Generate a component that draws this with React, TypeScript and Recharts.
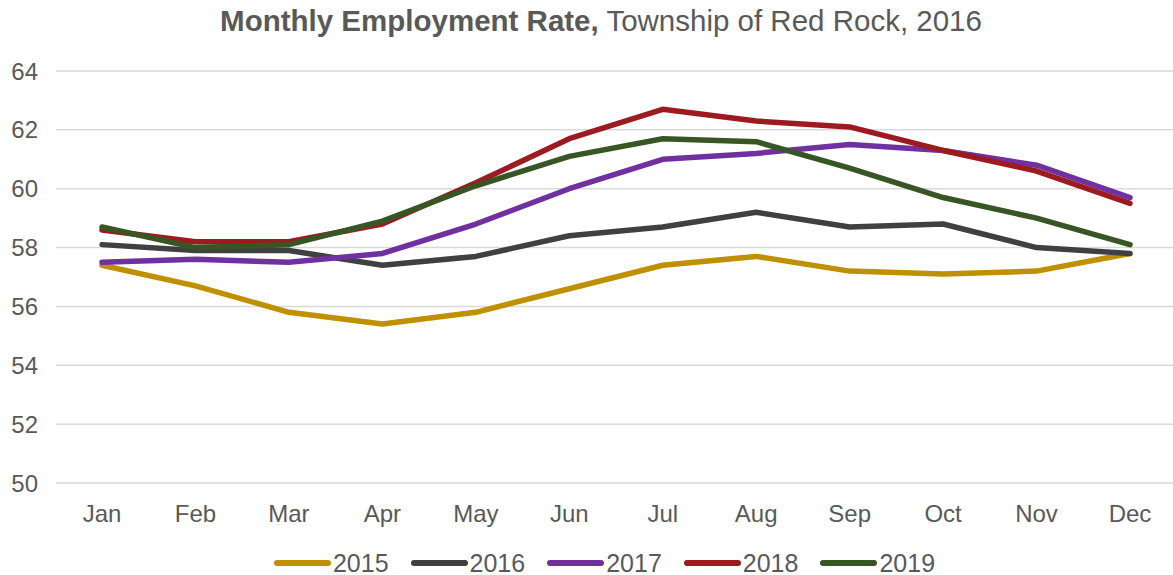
import React from "react";
import { LineChart, Line, XAxis, YAxis, CartesianGrid } from "recharts";

const months = ["Jan", "Feb", "Mar", "Apr", "May", "Jun", "Jul", "Aug", "Sep", "Oct", "Nov", "Dec"];
const yTicks = [50, 52, 54, 56, 58, 60, 62, 64];

const s2015 = [57.4, 56.7, 55.8, 55.4, 55.8, 56.6, 57.4, 57.7, 57.2, 57.1, 57.2, 57.8];
const s2016 = [58.1, 57.9, 57.9, 57.4, 57.7, 58.4, 58.7, 59.2, 58.7, 58.8, 58.0, 57.8];
const s2017 = [57.5, 57.6, 57.5, 57.8, 58.8, 60.0, 61.0, 61.2, 61.5, 61.3, 60.8, 59.7];
const s2018 = [58.6, 58.2, 58.2, 58.8, 60.2, 61.7, 62.7, 62.3, 62.1, 61.3, 60.6, 59.5];
const s2019 = [58.7, 58.0, 58.1, 58.9, 60.1, 61.1, 61.7, 61.6, 60.7, 59.7, 59.0, 58.1];

const series = [
  { key: "2015", values: s2015, color: "#BF9000" },
  { key: "2016", values: s2016, color: "#404040" },
  { key: "2017", values: s2017, color: "#7030A0" },
  { key: "2018", values: s2018, color: "#9B1B20" },
  { key: "2019", values: s2019, color: "#375623" },
];

const data = months.map((m, i) => {
  const row: Record<string, string | number> = { month: m };
  series.forEach((s) => {
    row[s.key] = s.values[i];
  });
  return row;
});

const FONT = "'Liberation Sans', Arial, sans-serif";
const TEXT = "#595959";

export default function App() {
  return (
    <div style={{ position: "absolute", left: 0, top: 0, width: 1173, height: 575, background: "#fff", fontFamily: FONT }}>
      <LineChart
        width={1173}
        height={575}
        data={data}
        margin={{ top: 71, right: 0, left: 0, bottom: 32 }}
        style={{ position: "absolute", left: 0, top: 0 }}
      >
        <CartesianGrid vertical={false} stroke="#D9D9D9" strokeWidth={1.5} />
        <XAxis
          dataKey="month"
          axisLine={false}
          tickLine={false}
          tickSize={0}
          tickMargin={22}
          height={60}
          padding={{ left: 46, right: 43 }}
          tick={{ fill: TEXT, fontSize: 24, fontFamily: FONT }}
          interval={0}
        />
        <YAxis
          domain={[50, 64]}
          ticks={yTicks}
          axisLine={false}
          tickLine={false}
          tickSize={0}
          tickMargin={18}
          width={56}
          tick={{ fill: TEXT, fontSize: 24, fontFamily: FONT }}
          interval={0}
        />
        {series.map((s) => (
          <Line
            key={s.key}
            dataKey={s.key}
            stroke={s.color}
            strokeWidth={5.5}
            dot={false}
            activeDot={false}
            strokeLinejoin="round"
            strokeLinecap="round"
            isAnimationActive={false}
          />
        ))}
      </LineChart>
      <div
        style={{
          position: "absolute",
          left: 0,
          top: 4,
          width: 1202,
          textAlign: "center",
          fontSize: 29.5,
          lineHeight: "34px",
          color: TEXT,
          whiteSpace: "nowrap",
        }}
      >
        <span style={{ fontWeight: "bold" }}>Monthly Employment Rate,</span> Township of Red Rock, 2016
      </div>
      <div
        style={{
          position: "absolute",
          left: 0,
          top: 551,
          height: 24,
          width: 1209,
          display: "flex",
          justifyContent: "center",
          alignItems: "center",
          gap: 22,
          fontSize: 25,
          lineHeight: "24px",
          color: TEXT,
        }}
      >
        {series.map((s) => (
          <div key={s.key} style={{ display: "flex", alignItems: "center", height: 24 }}>
            <div style={{ width: 57, height: 6, borderRadius: 3, background: s.color, marginRight: 2 }} />
            <span style={{ lineHeight: "24px" }}>{s.key}</span>
          </div>
        ))}
      </div>
    </div>
  );
}
